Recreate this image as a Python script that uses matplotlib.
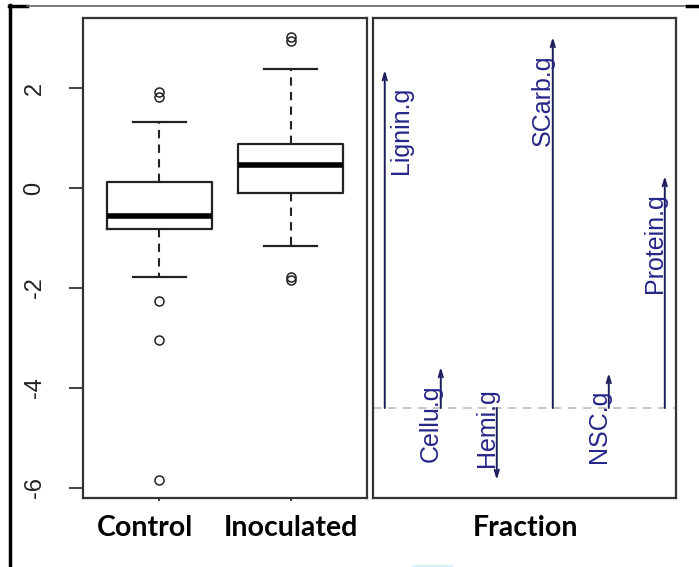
import matplotlib.pyplot as plt
from matplotlib.lines import Line2D
from matplotlib.patches import Rectangle

# boxplot summary
groups = ["Control", "Inoculated"]
medians = [-0.56, 0.46]
q1 = [-0.82, -0.10]
q3 = [0.12, 0.88]
whisk_lo = [-1.78, -1.16]
whisk_hi = [1.32, 2.38]
outliers = [[1.83, 1.93, -2.26, -3.04, -5.84],
            [2.94, 3.02, -1.78, -1.84]]

# fraction arrows
fractions = ["Lignin.g", "Cellu.g", "Hemi.g", "SCarb.g", "NSC.g", "Protein.g"]
arrow_end = [2.36, -3.58, -5.84, 3.02, -3.70, 0.24]
baseline = -4.4

yticks = [2, 0, -2, -4, -6]

W, H = 699, 567
fig = plt.figure(figsize=(W / 100, H / 100), dpi=100)
fig.patch.set_facecolor("white")

frame_col = "#333333"
blue = "#26268a"
font = ["Liberation Sans", "DejaVu Sans"]


def px_axes(x0, y0, x1, y1):
    return fig.add_axes([x0 / W, 1 - y1 / H, (x1 - x0) / W, (y1 - y0) / H])


ax1 = px_axes(83, 18, 367, 498)
ax2 = px_axes(373, 18, 676, 498)

# --- left panel: boxplots
stats = []
for i in range(len(groups)):
    stats.append(dict(med=medians[i], q1=q1[i], q3=q3[i],
                      whislo=whisk_lo[i], whishi=whisk_hi[i],
                      fliers=outliers[i], label=groups[i]))

ax1.bxp(stats, positions=[1, 2], widths=0.8, capwidths=0.4,
        boxprops=dict(color="#222222", lw=1.6),
        medianprops=dict(color="black", lw=4),
        whiskerprops=dict(color="#222222", lw=1.5, linestyle=(0, (4, 3))),
        capprops=dict(color="#222222", lw=1.6),
        flierprops=dict(marker="o", markerfacecolor="none",
                        markeredgecolor="#222222", markersize=6.5, markeredgewidth=1.1))

ax1.set_xlim(0.42, 2.58)
ax1.set_ylim(-6.2, 3.4)
ax1.set_yticks(yticks)
ax1.set_yticklabels([str(v) for v in yticks], rotation=90, va="center",
                    fontsize=17, family=font, color="#222222")
ax1.tick_params(axis="y", length=10, width=1.3, pad=17, color=frame_col)
ax1.set_xticks([1, 2])
ax1.set_xticklabels([])
ax1.tick_params(axis="x", length=2.5, width=1.3, color=frame_col)

# --- right panel: arrows from the baseline
xs = list(range(1, len(fractions) + 1))
ax2.axhline(baseline, color="#bbbbbb", lw=1.2, linestyle=(0, (5, 4)), zorder=1)
for x, name, end in zip(xs, fractions, arrow_end):
    ax2.annotate("", xy=(x, end), xytext=(x, baseline),
                 arrowprops=dict(arrowstyle="->,head_length=0.5,head_width=0.15",
                                 color="#1d1d5e", lw=1.4, shrinkA=0, shrinkB=0))
    up = end > baseline
    anchor = end if up else baseline
    dx = 16 if name == "Lignin.g" else -10
    dy = -17 if up else 20
    ax2.annotate(name, xy=(x, anchor), xytext=(dx, dy), textcoords="offset pixels",
                 rotation=90, ha="center", va="top", color=blue,
                 fontsize=18, family=font)

ax2.set_xlim(0.79, 6.2)
ax2.set_ylim(-6.2, 3.4)
ax2.set_xticks([])
ax2.set_yticks([])

for ax in (ax1, ax2):
    for s in ax.spines.values():
        s.set_color(frame_col)
        s.set_linewidth(1.6)

# group labels under the panels (bold, added on top of the R plot)
lab_font = ["Lato", "DejaVu Sans"]
lab_dx = [-14, 0]
for x, name, dx in zip([1, 2], groups, lab_dx):
    ax1.annotate(name, xy=(x, 0), xycoords=("data", "axes fraction"),
                 xytext=(dx, -30), textcoords="offset pixels",
                 ha="center", va="center", fontsize=20.5, fontweight="bold",
                 family=lab_font)
ax2.annotate("Fraction", xy=(0.5, 0), xycoords="axes fraction",
             xytext=(1, -30), textcoords="offset pixels",
             ha="center", va="center", fontsize=20.5, fontweight="bold",
             family=lab_font)

# outer slide frame
def fig_line(x0, y0, x1, y1, **kw):
    fig.add_artist(Line2D([x0 / W, x1 / W], [1 - y0 / H, 1 - y1 / H],
                          transform=fig.transFigure, **kw))

fig_line(10, 5, 10, H, color="black", lw=2.5)
fig_line(9, 5.5, 27, 5.5, color="black", lw=2.5)
fig_line(27, 5.5, 687, 5.5, color="#666666", lw=1.2)
fig_line(687, 5.5, W, 5.5, color="black", lw=2.5)
fig.add_artist(Rectangle((412 / W, 0), 41 / W, 2.5 / H, transform=fig.transFigure,
                         color="#d6f0fb", lw=0))

fig.savefig("out.png", dpi=100)
